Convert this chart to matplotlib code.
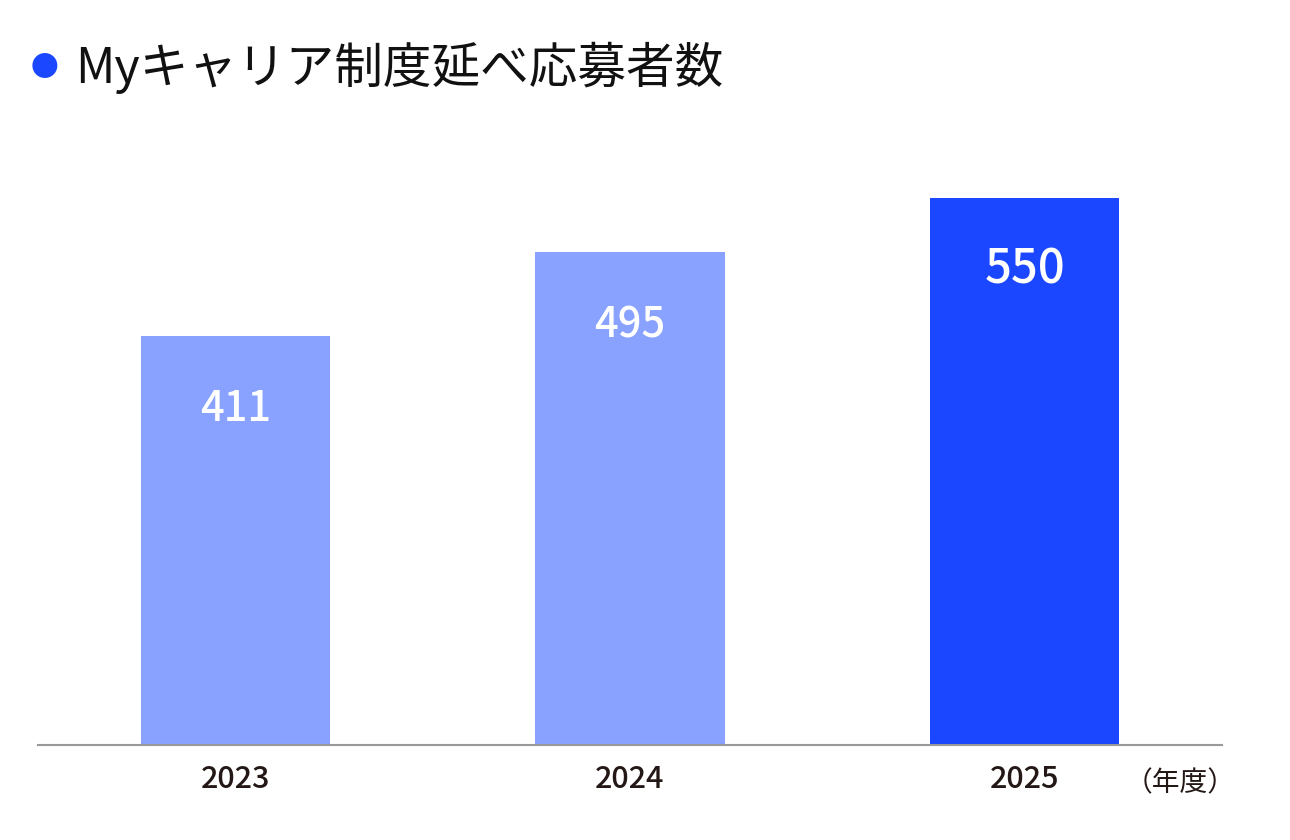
import matplotlib
matplotlib.use("Agg")
import matplotlib.pyplot as plt

plt.rcParams['font.family'] = ['Noto Sans CJK JP', 'DejaVu Sans']

years = ["2023", "2024", "2025"]
values = [411, 495, 550]
colors = ["#8aa2ff", "#8aa2ff", "#1a47ff"]

fig = plt.figure(figsize=(12.9, 8.4), dpi=100)
ax = fig.add_axes([38/1290, 95/840, (1222-38)/1290, (745-120)/840])
x = range(len(years))
ax.bar(x, values, width=0.48, color=colors, zorder=2)
ax.set_xlim(-0.5, 2.5)
ax.set_ylim(0, 628)
for i, v in enumerate(values):
    ax.text(i, v - 73, str(v), ha='center', va='center', color='white',
            fontsize=34 if i == 2 else 30, fontweight='medium')
ax.set_xticks(list(x))
ax.set_xticklabels(years, fontsize=22, color='#231815', fontweight='medium')
ax.tick_params(axis='x', length=0, pad=14)
ax.set_yticks([])
for s in ['top', 'right', 'left']:
    ax.spines[s].set_visible(False)
ax.spines['bottom'].set_color('#999999')
ax.spines['bottom'].set_linewidth(1.5)

fig.text(1180/1290, 1 - 783/840, "（年度）", ha='center', va='center',
         fontsize=20, color='#231815')
fig.text(45/1290, 1 - 68/840, "●", ha='center', va='center', fontsize=20, color='#1a47ff')
fig.text(75/1290, 1 - 68/840, "Myキャリア制度延べ応募者数", ha='left', va='center',
         fontsize=35, color='#111111')

fig.savefig("out.png", dpi=100, facecolor='white')
